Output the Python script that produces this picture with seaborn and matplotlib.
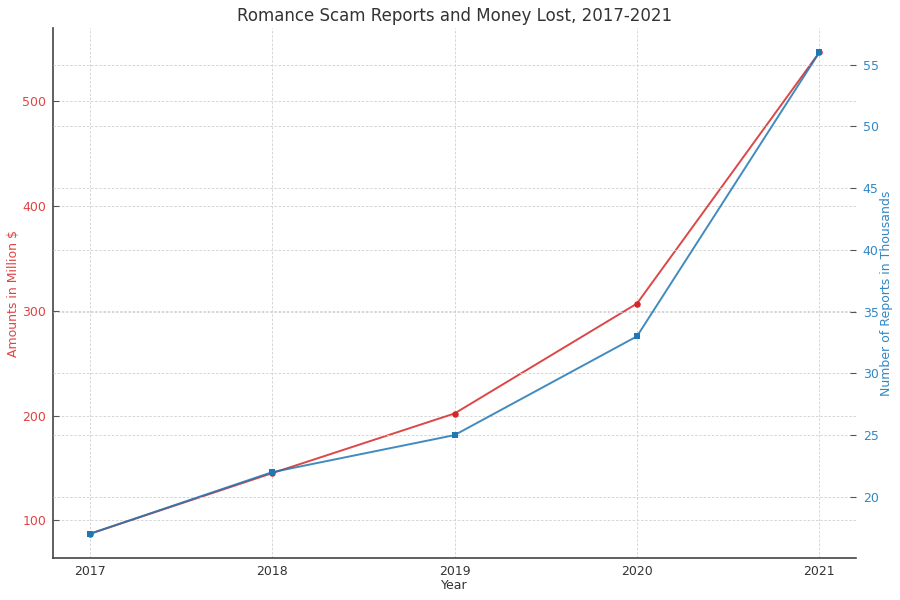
import matplotlib
matplotlib.use("Agg")
import matplotlib.pyplot as plt
import seaborn as sns
import pandas as pd

years = [2017, 2018, 2019, 2020, 2021]
amounts = [87, 145, 202, 307, 547]        # millones de $
reports = [17, 22, 25, 33, 56]            # miles de reportes

df = pd.DataFrame({'Year': years, 'Amount': amounts, 'Reports': reports})

sns.set_style("white")
plt.rcParams['font.family'] = ['DejaVu Sans']

red = '#d62728'
blue = '#1f77b4'
red_txt = '#e04444'
blue_txt = '#3288c4'
grid_kw = dict(color='#d0d0d0', linestyle=(0, (3, 2)), linewidth=0.6)

fig, ax1 = plt.subplots(figsize=(9, 6), dpi=100)

# Serie 1: monto perdido
sns.lineplot(data=df, x='Year', y='Amount', color=red, alpha=0.85, linewidth=1.4, ax=ax1)
sns.scatterplot(data=df, x='Year', y='Amount', color=red, marker='o', s=22, edgecolor=red, linewidth=0, ax=ax1, zorder=3)
ax1.set_ylabel('Amounts in Million $', color=red_txt, fontsize=9)
ax1.yaxis.set_label_coords(-0.041, 0.5)
ax1.set_xlabel('Year', color='#333333', fontsize=9, labelpad=0.5)
ax1.tick_params(axis='y', colors='#555555', labelcolor=red_txt, labelsize=9, direction='in', length=4, pad=5)
ax1.tick_params(axis='x', colors='#555555', labelcolor='#333333', labelsize=9, direction='in', length=4, pad=5)
ax1.set_xticks(years)
ax1.grid(True, **grid_kw)
for s in ['top', 'right']:
    ax1.spines[s].set_visible(False)
for s in ['left', 'bottom']:
    ax1.spines[s].set_color('#444444')
    ax1.spines[s].set_linewidth(1.2)

# Serie 2: número de reportes (eje secundario)
ax2 = ax1.twinx()
sns.lineplot(data=df, x='Year', y='Reports', color=blue, alpha=0.85, linewidth=1.4, ax=ax2)
sns.scatterplot(data=df, x='Year', y='Reports', color=blue, marker='s', s=22, edgecolor=blue, linewidth=0, ax=ax2, zorder=3)
ax2.set_ylabel('Number of Reports in Thousands', color=blue_txt, fontsize=9)
ax2.yaxis.set_label_coords(1.030, 0.5)
ax2.tick_params(axis='y', colors='#555555', labelcolor=blue_txt, labelsize=9, direction='in', length=4, pad=5)
ax2.grid(True, **grid_kw)
for s in ['top', 'right', 'left', 'bottom']:
    ax2.spines[s].set_visible(False)

ax1.set_title('Romance Scam Reports and Money Lost, 2017-2021', fontsize=12, color='#333333', pad=5)

fig.subplots_adjust(left=0.059, right=0.951, bottom=0.07, top=0.953)
fig.savefig('out.png', dpi=100)
